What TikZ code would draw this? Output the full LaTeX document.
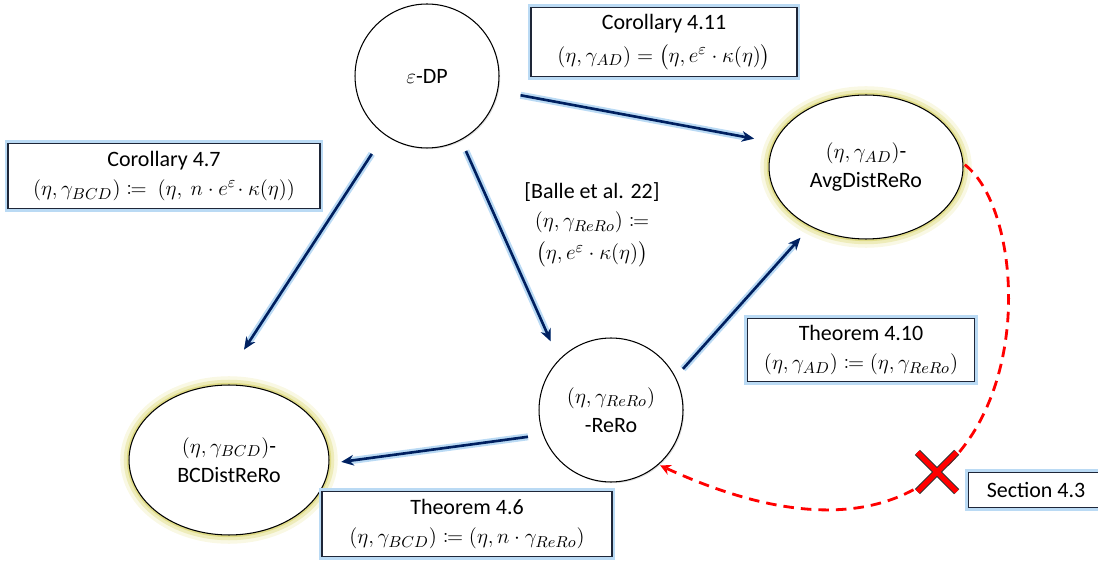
\documentclass[tikz,border=0pt]{standalone}
\usepackage{mathtools}
\usepackage{fontspec}
\setmainfont{Carlito}
\usetikzlibrary{arrows.meta,shapes.geometric,shapes.misc,shadows}

\definecolor{navy}{RGB}{0,32,96}
\definecolor{haze}{RGB}{186,218,244}
\definecolor{glowout}{RGB}{249,248,228}
\definecolor{glowmid}{RGB}{238,236,186}
\definecolor{glowin}{RGB}{224,220,136}
\definecolor{framecol}{RGB}{30,38,56}

\begin{document}
\begin{tikzpicture}[
    x=0.02cm, y=-0.02cm,
    font=\fontsize{12.5}{16.5}\selectfont,
    notion/.style={circle, draw, fill=white, line width=0.6pt, minimum size=2.88cm, align=center, drop shadow={opacity=0.25, shadow xshift=0.7pt, shadow yshift=-0.7pt}},
    distnotion/.style={ellipse, draw, fill=white, line width=0.6pt, align=center, preaction={draw=glowout, line width=10pt}, preaction={draw=glowmid, line width=6pt}, preaction={draw=glowin, line width=2.5pt}},
    claim/.style={rectangle, draw=framecol, line width=0.8pt, fill=white, align=center, inner sep=2pt, preaction={draw=haze, line width=3.5pt}},
    implies/.style={draw=navy, line width=1.5pt, -{Stealth[length=7pt, width=6pt]}, preaction={draw=haze, line width=4pt}},
    nogo/.style={draw=red, line width=1.6pt, dash pattern=on 6pt off 4pt, -{Stealth[length=6pt, width=6pt]}}
]
\useasboundingbox (0,0) rectangle (1098,563);

% notions
\node (dp) [notion] at (427,76) {$\varepsilon$-DP};
\node (rero) [notion] at (611,410) {$(\eta,\gamma_{ReRo})$\\-ReRo};
\node (avg) [distnotion, minimum width=3.88cm, minimum height=2.88cm] at (866,167) {$(\eta,\gamma_{AD})$-\\AvgDistReRo};
\node (bc) [distnotion, minimum width=4cm, minimum height=3cm] at (229,460) {$(\eta,\gamma_{BCD})$-\\BCDistReRo};

% results
\node (c411) [claim, minimum width=5.32cm, minimum height=1.38cm] at (664,42) {Corollary 4.11\\[2pt]$(\eta,\gamma_{AD}) = \bigl(\eta, e^{\varepsilon}\cdot\kappa(\eta)\bigr)$};
\node (c47) [claim, minimum width=6.24cm, minimum height=1.3cm] at (164,176) {Corollary 4.7\\$(\eta,\gamma_{BCD}) \coloneqq\ (\eta,\ n\cdot e^{\varepsilon}\!\cdot\kappa(\eta))$};
\node (t410) [claim, minimum width=4.54cm, minimum height=1.26cm] at (861,350) {Theorem 4.10\\$(\eta,\gamma_{AD}) \coloneqq (\eta,\gamma_{ReRo})$};
\node (t46) [claim, minimum width=5.8cm, minimum height=1.3cm] at (467,524) {Theorem 4.6\\$(\eta,\gamma_{BCD}) \coloneqq (\eta, n\cdot\gamma_{ReRo})$};
\node (sec) [claim, minimum width=2.7cm, minimum height=0.7cm] at (1036,490) {Section 4.3};
\node (balle) [align=center] at (592,225) {[Balle et al. 22]\\$(\eta,\gamma_{ReRo}) \coloneqq$\\[2pt]$\bigl(\eta, e^{\varepsilon}\cdot\kappa(\eta)\bigr)$};

% implications
\draw [implies, shorten <=0.46cm, shorten >=0.41cm] (dp.-12) -- (avg.165);
\draw [implies, shorten <=0.46cm, shorten >=0.84cm] (dp.234) -- (bc.96);
\draw [implies, shorten <=0.24cm, shorten >=0.4cm] (dp.-62.5) -- (rero.136);
\draw [implies, shorten <=0.22cm, shorten >=0.3cm] (rero.27) -- (avg.227);
\draw [implies, shorten <=0.3cm, shorten >=0.24cm] (rero.200) -- (bc.-2);

% separation
\draw [nogo, shorten <=1pt, shorten >=1pt] (avg.2) .. controls (1050,230) and (1040,640) .. (rero.-49);
\node (cut) [cross out, draw=red, line width=3pt, minimum size=0.68cm, inner sep=0pt, preaction={draw=black!80, line width=4.2pt}] at (937,472) {};
\end{tikzpicture}
\end{document}
